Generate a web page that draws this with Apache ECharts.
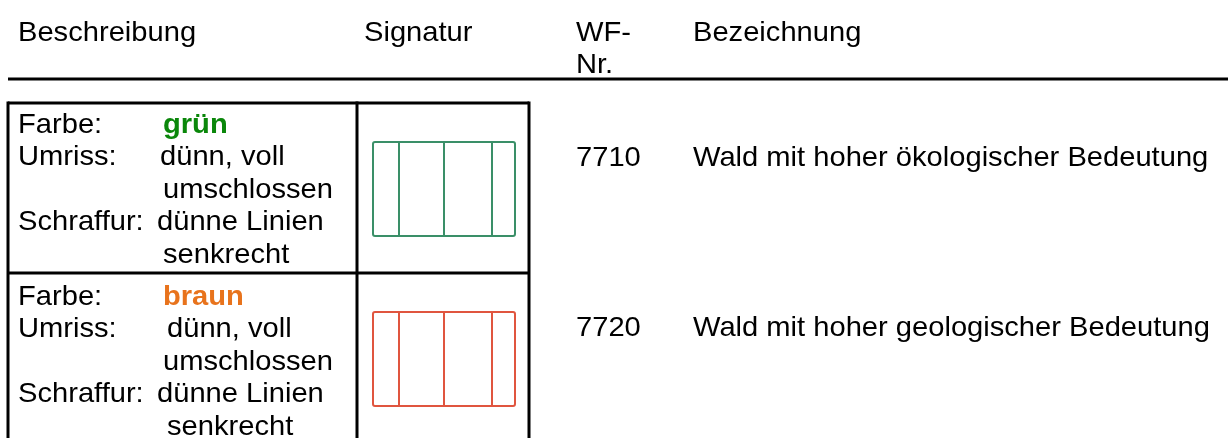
<!DOCTYPE html>
<html>
<head>
<meta charset="utf-8">
<script src="https://cdn.jsdelivr.net/npm/echarts@6/dist/echarts.min.js"></script>
<style>
html,body{margin:0;padding:0;background:#fff;}
#chart{width:1228px;height:438px;}
</style>
</head>
<body>
<div id="chart"></div>
<script>
// ---- data ----
const headerTitles = ['Beschreibung', 'Signatur', 'WF-', 'Nr.', 'Bezeichnung'];
const wfNumbers = ['7710', '7720'];
const designations = ['Wald mit hoher ökologischer Bedeutung', 'Wald mit hoher geologischer Bedeutung'];
const colorNames = ['grün', 'braun'];
const descLabels = ['Farbe:', 'Umriss:', '', 'Schraffur:', ''];
const outlineText = ['dünn, voll', 'umschlossen'];
const hatchText = ['dünne Linien', 'senkrecht'];

// ---- styles / layout ----
const FONT = '"Liberation Sans", Arial, sans-serif';
const FS = 28, SX = 1.04;
const nameColors = ['#0a870a', '#e8731c'];
const symbolColors = ['#3a8f68', '#e0553f'];
const headerX = [18, 364, 576, 576, 693];
const headerY = [33, 33, 33, 65.5, 33];
const rowTops = [103, 273];
const firstLine = [125.2, 296.8];
const lineStep = 32.5;
const valueX = [[163, 160, 163, 157, 163], [163, 167, 163, 157, 167]];
const hatchX = [399, 444, 492];

function txt(api, x, y, s, opts) {
  const p = api.coord([x, y]);
  opts = opts || {};
  return {
    type: 'text', x: p[0], y: p[1], scaleX: SX, silent: true,
    style: {
      text: s, fill: opts.fill || '#000',
      font: (opts.bold ? 'bold ' : '') + FS + 'px ' + FONT,
      verticalAlign: 'middle', align: 'left'
    }
  };
}
function seg(api, x1, y1, x2, y2, w, c) {
  const a = api.coord([x1, y1]), b = api.coord([x2, y2]);
  return { type: 'line', silent: true, shape: { x1: a[0], y1: a[1], x2: b[0], y2: b[1] }, style: { stroke: c, lineWidth: w } };
}

const option = {
  animation: false,
  backgroundColor: '#ffffff',
  grid: { left: 0, right: 0, top: 0, bottom: 0 },
  xAxis: { type: 'value', min: 0, max: 1228, show: false },
  yAxis: { type: 'value', min: 0, max: 438, inverse: true, show: false },
  series: [
    {
      type: 'custom',
      data: [[0]],
      renderItem: function (params, api) {
        const children = headerTitles.map((t, i) => txt(api, headerX[i], headerY[i], t));
        children.push(seg(api, 8, 79, 1228, 79, 3, '#000'));
        children.push(seg(api, 8, rowTops[0], 529, rowTops[0], 3, '#000'));
        children.push(seg(api, 8, rowTops[0] - 1.5, 8, 450, 3, '#000'));
        children.push(seg(api, 357, rowTops[0] - 1.5, 357, 450, 3, '#000'));
        children.push(seg(api, 529, rowTops[0] - 1.5, 529, 450, 3, '#000'));
        return { type: 'group', children: children };
      }
    },
    {
      type: 'custom',
      data: wfNumbers.map((d, i) => [i]),
      renderItem: function (params, api) {
        const r = api.value(0);
        const top = rowTops[r];
        const children = [];
        if (r > 0) children.push(seg(api, 8, top, 529, top, 3, '#000'));
        const vals = [colorNames[r], outlineText[0], outlineText[1], hatchText[0], hatchText[1]];
        for (let i = 0; i < 5; i++) {
          const y = firstLine[r] + i * lineStep;
          if (descLabels[i]) children.push(txt(api, 18, y, descLabels[i]));
          if (i === 0) children.push(txt(api, valueX[r][i], y, vals[i], { bold: true, fill: nameColors[r] }));
          else children.push(txt(api, valueX[r][i], y, vals[i]));
        }
        const a = api.coord([373, top + 39]), b = api.coord([515, top + 133]);
        children.push({ type: 'rect', silent: true, shape: { x: a[0], y: a[1], width: b[0] - a[0], height: b[1] - a[1], r: 2 },
          style: { fill: 'none', stroke: symbolColors[r], lineWidth: 2 } });
        hatchX.forEach(x => children.push(seg(api, x, top + 39, x, top + 133, 2, symbolColors[r])));
        children.push(txt(api, 576, top + 55.5, wfNumbers[r]));
        children.push(txt(api, 693, top + 55.5, designations[r]));
        return { type: 'group', children: children };
      }
    }
  ]
};
const chart = echarts.init(document.getElementById('chart'), null, { renderer: 'canvas' });
chart.setOption(option);
</script>
</body>
</html>
